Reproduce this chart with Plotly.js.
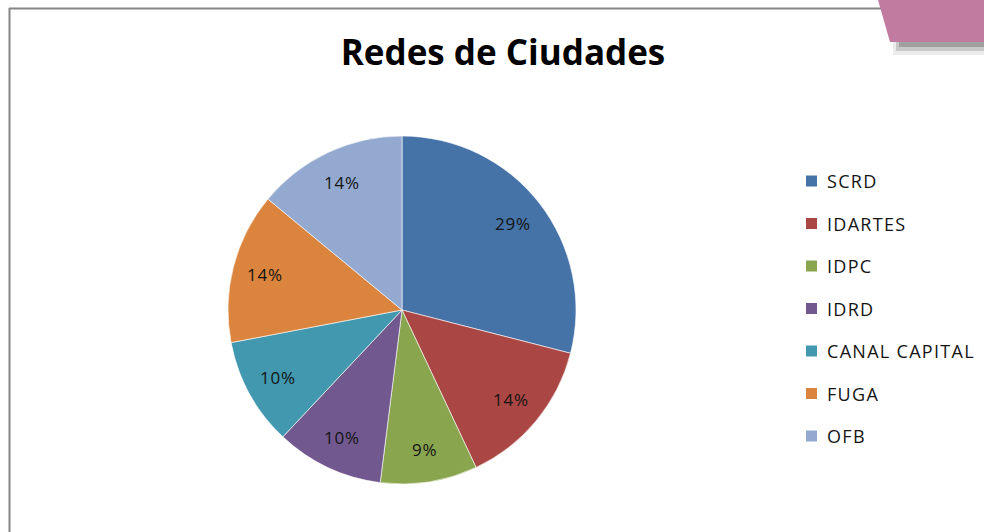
<!DOCTYPE html>
<html><head><meta charset="utf-8">
<script src="https://cdn.plot.ly/plotly-3.0.1.min.js"></script>
<style>html,body{margin:0;padding:0;background:#fff}#chart{width:984px;height:532px}</style>
</head><body><div id="chart"></div>
<script>
const labels = ["SCRD", "IDARTES", "IDPC", "IDRD", "CANAL CAPITAL", "FUGA", "OFB"];
const values = [29, 14, 9, 10, 10, 14, 14];
const colors = ["#4572A7", "#AA4643", "#89A54E", "#71588F", "#4198AF", "#DB843D", "#93A9CF"];
const titleText = "Redes de Ciudades";

const W = 984, H = 532;
const px = x => x / W, py = y => 1 - y / H;
const FONT = "Open Sans, sans-serif";

// pie placement (pixels)
const cx = 402, cy = 310, R = 174;

const trace = {
  type: "pie",
  labels: labels,
  values: values,
  sort: false,
  direction: "clockwise",
  rotation: 0,
  marker: {colors: colors, line: {color: "rgba(255,255,255,0.6)", width: 1}},
  textinfo: "none",
  domain: {x: [px(cx - R), px(cx + R)], y: [py(cy + R), py(cy - R)]},
  showlegend: false,
  hoverinfo: "label+percent"
};

const shapes = [
  // chart frame
  {type: "line", xref: "paper", yref: "paper", x0: px(9.5), x1: px(9.5), y0: py(8), y1: py(540), line: {color: "#868686", width: 2}},
  {type: "line", xref: "paper", yref: "paper", x0: px(9), x1: px(890), y0: py(8.5), y1: py(8.5), line: {color: "#868686", width: 2}},
  // shadow of corner tab
  {type: "rect", xref: "paper", yref: "paper", x0: px(893), x1: px(984), y0: py(42), y1: py(55), fillcolor: "rgba(0,0,0,0.08)", line: {width: 0}},
  {type: "rect", xref: "paper", yref: "paper", x0: px(896), x1: px(984), y0: py(42), y1: py(51), fillcolor: "rgba(0,0,0,0.15)", line: {width: 0}},
  {type: "rect", xref: "paper", yref: "paper", x0: px(899), x1: px(984), y0: py(42), y1: py(47), fillcolor: "rgba(0,0,0,0.2)", line: {width: 0}},
  // corner tab
  {type: "path", xref: "paper", yref: "paper",
   path: `M ${px(878)} ${py(0)} L ${px(984)} ${py(0)} L ${px(984)} ${py(42)} L ${px(890)} ${py(42)} Z`,
   fillcolor: "#C27BA0", line: {width: 0}}
];
const annotations = [];

// slice percentage labels, placed radially from the data
const total = values.reduce((a, b) => a + b, 0);
let cum = 0;
values.forEach((v, i) => {
  const mid = (cum + v / 2) / total * 2 * Math.PI;
  cum += v;
  const r = 0.81 * R;
  const x = cx + r * Math.sin(mid), y = cy - r * Math.cos(mid);
  annotations.push({xref: "paper", yref: "paper", x: px(x), y: py(y),
    xanchor: "center", yanchor: "middle", showarrow: false,
    text: '<span style="letter-spacing:0.8px">' + Math.round(v / total * 100) + "%</span>",
    font: {family: FONT, size: 17, color: "#141414"}});
});

// legend
const legX = 806, legY0 = 181, legGap = 42.5, sq = 11;
labels.forEach((lab, i) => {
  const yc = legY0 + i * legGap;
  shapes.push({type: "rect", xref: "paper", yref: "paper",
    x0: px(legX), x1: px(legX + sq), y0: py(yc + sq / 2), y1: py(yc - sq / 2),
    fillcolor: colors[i], line: {width: 0}});
  annotations.push({xref: "paper", yref: "paper", x: px(legX + 19), y: py(yc),
    xanchor: "left", yanchor: "middle", showarrow: false,
    text: '<span style="letter-spacing:1.3px">' + lab + "</span>",
    font: {family: FONT, size: 18, color: "#141414"}});
});

const layout = {
  width: W, height: H,
  margin: {l: 0, r: 0, t: 0, b: 0},
  paper_bgcolor: "#ffffff",
  title: {text: "<b>" + titleText + "</b>", x: px(503), xanchor: "center", y: py(53), yanchor: "middle",
    font: {family: FONT, size: 35, color: "#000000"}},
  shapes: shapes,
  annotations: annotations,
  showlegend: false
};
Plotly.newPlot("chart", [trace], layout, {displayModeBar: false, staticPlot: true});
</script></body></html>
